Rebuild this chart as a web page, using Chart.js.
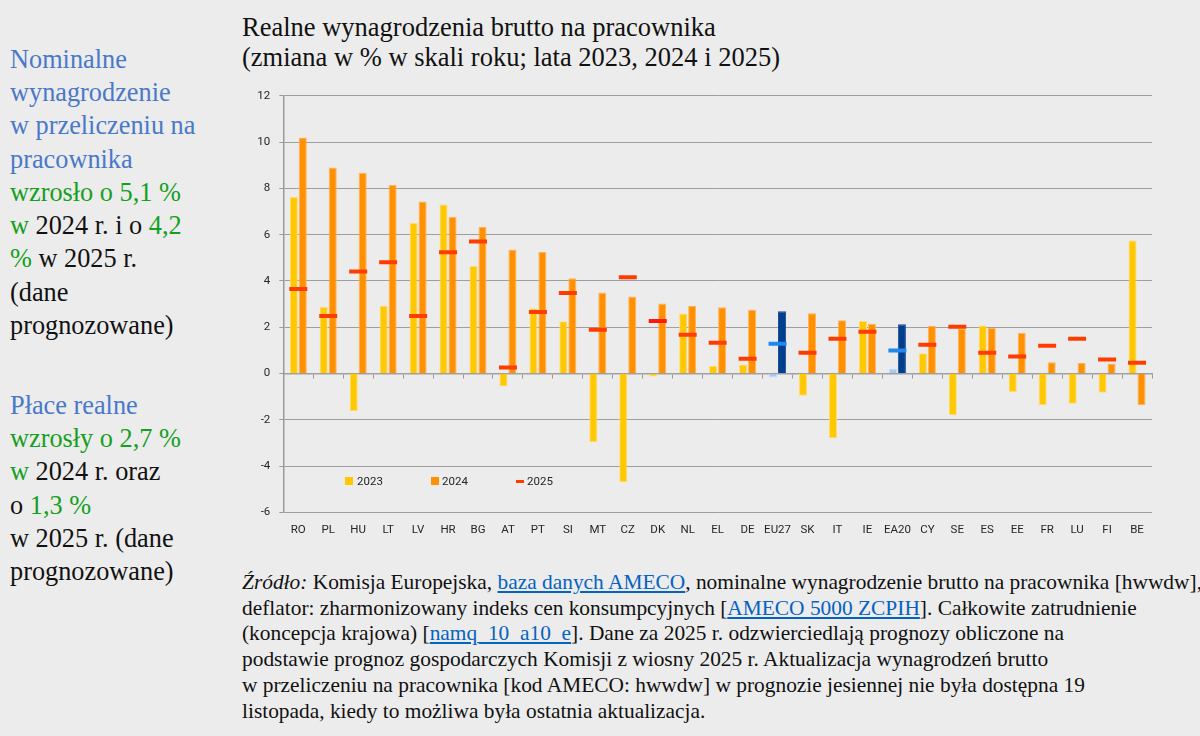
<!DOCTYPE html>
<html>
<head>
<meta charset="utf-8">
<script src="https://cdn.jsdelivr.net/npm/chart.js@4.4.1/dist/chart.umd.min.js"></script>
<style>
  html, body { margin:0; padding:0; background:#ececec; width:1200px; height:736px; overflow:hidden; }
  body { position:relative; font-family:"Liberation Serif","Times New Roman",serif; color:#111; }
  .title { position:absolute; left:242px; top:12px; font-size:26.5px; line-height:30px; white-space:nowrap; }
  .side { position:absolute; left:10px; font-size:26.3px; line-height:33.3px; white-space:nowrap; }
  .b { color:#4a78c8; }
  .g { color:#14a01e; }
  .src { position:absolute; left:242px; top:570px; font-size:21.4px; line-height:25.7px; white-space:nowrap; }
  .src a { color:#0563c1; text-decoration:underline; }
  #wrap { position:absolute; left:230px; top:80px; width:940px; height:470px; }
  .lg { position:absolute; font-family:Roboto,"Liberation Sans",sans-serif; font-size:11.5px; color:#262626; line-height:14px; }
  .sw { position:absolute; }
</style>
</head>
<body>
<div class="title">Realne wynagrodzenia brutto na pracownika<br>(zmiana w % w skali roku; lata 2023, 2024 i 2025)</div>

<div class="side" style="top:42.7px">
<span class="b">Nominalne</span><br>
<span class="b">wynagrodzenie</span><br>
<span class="b">w przeliczeniu na</span><br>
<span class="b">pracownika</span><br>
<span class="g">wzrosło o 5,1 %</span><br>
<span class="g">w</span> 2024 r. i o <span class="g">4,2</span><br>
<span class="g">%</span> w 2025 r.<br>
(dane<br>
prognozowane)
</div>

<div class="side" style="top:388.7px">
<span class="b">Płace realne</span><br>
<span class="g">wzrosły o 2,7 %</span><br>
<span class="g">w</span> 2024 r. oraz<br>
o <span class="g">1,3 %</span><br>
w 2025 r. (dane<br>
prognozowane)
</div>

<div id="wrap"><canvas id="c" width="940" height="470"></canvas></div>

<div class="sw" style="left:345px;top:477px;width:8px;height:8px;background:#ffc800"></div>
<div class="lg" style="left:357px;top:474px">2023</div>
<div class="sw" style="left:431px;top:477px;width:8px;height:8px;background:#ff9100"></div>
<div class="lg" style="left:442px;top:474px">2024</div>
<div class="sw" style="left:516px;top:480px;width:8px;height:2.5px;background:#ff3c00"></div>
<div class="lg" style="left:527px;top:474px">2025</div>

<div class="src">
<i>Źródło:</i> Komisja Europejska, <a>baza danych AMECO</a>, nominalne wynagrodzenie brutto na pracownika [hwwdw],<br>
deflator: zharmonizowany indeks cen konsumpcyjnych [<a>AMECO 5000 ZCPIH</a>]. Całkowite zatrudnienie<br>
(koncepcja krajowa) [<a>namq_10_a10_e</a>]. Dane za 2025 r. odzwierciedlają prognozy obliczone na<br>
podstawie prognoz gospodarczych Komisji z wiosny 2025 r. Aktualizacja wynagrodzeń brutto<br>
w przeliczeniu na pracownika [kod AMECO: hwwdw] w prognozie jesiennej nie była dostępna 19<br>
listopada, kiedy to możliwa była ostatnia aktualizacja.
</div>

<script>
const categories = ['RO','PL','HU','LT','LV','HR','BG','AT','PT','SI','MT','CZ','DK','NL','EL','DE','EU27','SK','IT','IE','EA20','CY','SE','ES','EE','FR','LU','FI','BE'];
const values2023 = [7.63, 2.88, -1.63, 2.93, 6.51, 7.31, 4.65, -0.56, 2.82, 2.26, -2.97, -4.70, -0.13, 2.59, 0.32, 0.39, -0.17, -0.96, -2.80, 2.27, 0.20, 0.88, -1.80, 2.08, -0.80, -1.37, -1.31, -0.83, 5.75];
const values2024 = [10.20, 8.91, 8.67, 8.15, 7.44, 6.78, 6.34, 5.36, 5.25, 4.12, 3.50, 3.33, 3.03, 2.93, 2.86, 2.76, 2.69, 2.60, 2.30, 2.15, 2.13, 2.06, 1.95, 1.97, 1.75, 0.49, 0.45, 0.43, -1.36];
const values2025 = [3.65, 2.49, 4.41, 4.81, 2.49, 5.24, 5.71, 0.26, 2.66, 3.48, 1.89, 4.16, 2.27, 1.67, 1.33, 0.64, 1.29, 0.90, 1.50, 1.80, 0.99, 1.24, 2.02, 0.90, 0.73, 1.20, 1.50, 0.60, 0.47];
const seriesNames = ['2023', '2024', '2025'];
const yTicks = [-6, -4, -2, 0, 2, 4, 6, 8, 10, 12];
const aggregates = ['EU27', 'EA20'];

const isAgg = c => aggregates.includes(c);
const col2023 = categories.map(c => isAgg(c) ? '#a6c8f2' : '#ffc800');
const bor2023 = categories.map(c => isAgg(c) ? '#c4daf6' : '#ffdc6e');
const col2024 = categories.map(c => isAgg(c) ? '#003f8e' : '#ff9100');
const bor2024 = categories.map(c => isAgg(c) ? '#1a4f96' : '#ffb45c');
const col2025 = categories.map(c => isAgg(c) ? '#1e88f0' : (c === 'DK' ? '#ff1a08' : '#ff3c00'));

const tickFont = { family: 'Roboto, "Liberation Sans", sans-serif', size: 11.5 };

new Chart(document.getElementById('c'), {
  type: 'bar',
  data: {
    labels: categories,
    datasets: [
      { label: seriesNames[0], data: values2023, backgroundColor: col2023, borderColor: bor2023, borderWidth: 1, categoryPercentage: 0.6, barPercentage: 0.9, order: 2 },
      { label: seriesNames[1], data: values2024, backgroundColor: col2024, borderColor: bor2024, borderWidth: 1, categoryPercentage: 0.6, barPercentage: 0.9, order: 2 },
      { label: seriesNames[2], type: 'line', data: values2025, showLine: false, pointStyle: 'line',
        pointRadius: 9, pointHoverRadius: 9, pointBorderWidth: 4, pointHoverBorderWidth: 4,
        pointBorderColor: col2025, pointBackgroundColor: col2025, borderColor: '#ff3c00', order: 1 }
    ]
  },
  options: {
    responsive: false,
    animation: false,
    devicePixelRatio: 1,
    events: [],
    layout: { padding: { left: 0, right: 18, top: 13.5, bottom: 0 } },
    plugins: { legend: { display: false }, tooltip: { enabled: false } },
    scales: {
      x: {
        type: 'category',
        position: 'bottom',
        offset: true,
        grid: { display: false, drawTicks: false },
        border: { display: false },
        ticks: { font: tickFont, color: '#262626', padding: 10.5, maxRotation: 0, autoSkip: false },
        afterFit: s => { s.height = 37.7; }
      },
      x0: {
        type: 'category',
        labels: categories,
        position: { y: 0 },
        offset: true,
        grid: { display: true, drawOnChartArea: false, drawTicks: true, tickLength: 4, offset: true, color: '#9a9a9a', tickColor: '#9a9a9a', lineWidth: 1 },
        border: { display: true, color: '#a0a0a0', width: 1.5 },
        ticks: { display: false }
      },
      y: {
        min: -6, max: 12,
        afterBuildTicks: s => { s.ticks = yTicks.map(v => ({ value: v })); },
        grid: {
          color: ctx => (ctx.tick && ctx.tick.value === 0) ? 'rgba(0,0,0,0)' : '#9e9e9e',
          lineWidth: 1,
          borderDash: [1, 1],
          tickColor: '#9a9a9a',
          tickBorderDash: [],
          tickLength: 4,
          drawTicks: true
        },
        border: { display: true, color: '#9a9a9a', width: 1.5 },
        ticks: { font: tickFont, color: '#262626', padding: 9 },
        afterFit: s => { s.width = 53.3; }
      }
    }
  }
});
</script>
</body>
</html>
